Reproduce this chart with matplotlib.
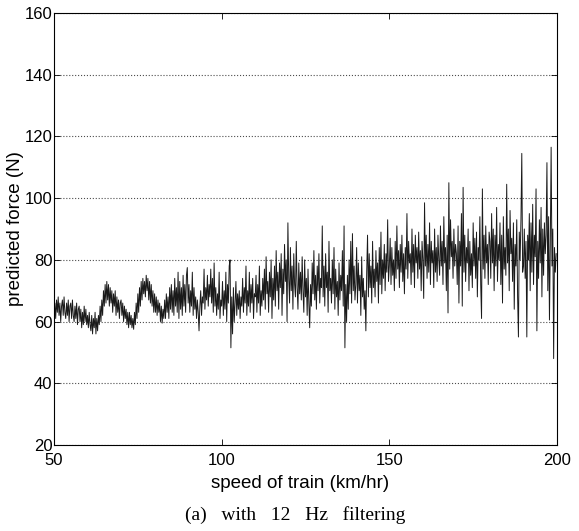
import numpy as np
import matplotlib
matplotlib.use("Agg")
import matplotlib.pyplot as plt

# predicted force (N), sampled every 0.25 km/hr, one list per 10 km/hr
force_50 = [63, 66, 61, 67, 63, 68, 62, 66, 60, 65, 67, 62, 68, 63, 61, 66, 62, 67, 60, 65,
            66, 61, 67, 62, 60, 65, 61, 66, 59, 64, 65, 60, 64, 58, 63, 59, 65, 60, 64, 59]
force_60 = [62, 58, 63, 59, 57, 62, 56, 61, 58, 63, 56, 61, 57, 62, 59, 65, 60, 67, 62, 70,
            65, 72, 66, 73, 67, 72, 65, 71, 66, 70, 63, 69, 65, 70, 62, 68, 63, 67, 61, 66]
force_70 = [67, 62, 66, 60, 65, 61, 64, 59, 63, 58, 63, 59, 62, 58, 61, 57.5, 63, 59, 66, 61,
            69, 63, 71, 65, 73, 67, 74, 69, 73, 68, 75, 70, 74, 67, 73, 66, 72, 65, 70, 63]
force_80 = [69, 63, 68, 62, 67, 63, 66, 60, 65, 59.5, 64, 61, 67, 61, 69, 63, 68, 61, 71, 64,
            72, 63, 70, 62, 74, 65, 71, 63, 76, 61, 73, 64, 71, 62, 75, 65, 72, 63, 75, 77.5]
force_90 = [66, 72, 63, 70, 65, 76, 62, 71, 64, 68, 61, 67, 63, 57, 65, 70, 62, 68, 66, 77,
            64, 71, 67, 75, 65, 72, 68, 77, 66, 74, 63, 79, 65, 71, 62, 69, 64, 76, 61, 67]
force_100 = [65, 73, 62, 70, 64, 76, 60, 72, 66, 78, 80, 51.5, 68, 56, 71, 60, 66, 73, 62, 69,
             64, 70, 61, 68, 65, 74, 63, 71, 66, 78, 62, 70, 65, 76, 63, 72, 66, 74, 61, 69]
force_110 = [68, 75, 63, 72, 66, 78, 62, 70, 65, 74, 67, 77, 64, 81, 69, 73, 63, 76, 68, 80,
             61, 74, 67, 78, 65, 83, 70, 76, 64, 79, 71, 82, 62, 77, 69, 85, 73, 80, 60, 92]
force_120 = [74, 66, 84, 70, 78, 64, 82, 72, 68, 86, 71, 64, 79, 69, 76, 67, 81, 70, 63, 80,
             68, 74, 62, 77, 66, 58, 72, 65, 79, 69, 83, 67, 75, 64, 78, 70, 82, 66, 74, 71]
force_130 = [91, 68, 78, 65, 82, 71, 76, 63, 86, 70, 74, 66, 80, 69, 84, 64, 77, 68, 73, 62,
             79, 67, 75, 70, 83, 65, 91, 51.5, 72, 60, 75, 64, 80, 69, 86, 66, 88.5, 70, 78, 67]
force_140 = [72, 84, 66, 79, 70, 75, 62, 81, 68, 74, 64, 70, 57, 76, 88, 68, 82, 71, 78, 66,
             86, 71, 77, 68, 83, 73, 79, 66, 84, 72, 89, 69, 80, 74, 85, 70, 82, 76, 93, 73]
force_150 = [78, 87, 72, 84, 75, 80, 70, 86, 74, 91, 77, 83, 71, 85, 76, 88, 73, 82, 69, 84,
             77, 95, 74, 86, 79, 82, 72, 90, 76, 85, 71, 88, 79, 84, 74, 89, 77, 83, 70, 86]
force_160 = [80, 67.5, 98.5, 78, 88, 74, 85, 76, 92, 72, 86, 79, 83, 71, 90, 76, 84, 73, 88, 80,
             75, 91, 78, 86, 72, 94, 79, 84, 70, 88, 62.8, 105, 77, 93, 81, 86, 74, 90, 78, 85]
force_170 = [82, 72, 91, 66, 86, 78, 95, 65, 103.5, 76, 88, 73, 84, 79, 90, 70, 86, 75, 82, 71,
             92, 78, 87, 74, 89, 68, 84, 80, 94, 72, 61, 103, 77, 88, 74, 91, 79, 85, 72, 89]
force_180 = [86, 74, 95, 79, 90, 70, 88, 78, 97, 73, 85, 80, 92, 72, 88, 66, 94, 77, 84, 75,
             104.5, 79, 90, 70, 96, 82, 87, 73, 92, 64, 85, 78, 93, 68, 55, 89, 80, 93, 114.5, 76]
force_190 = [78, 90, 74, 86, 55, 88, 80, 95, 70, 92, 76, 98, 72, 88, 81, 103, 57, 86, 74, 93,
             79, 97, 68, 90, 75, 92, 82, 88, 111.5, 70, 94, 60.5, 85, 116.5, 78, 90, 48, 84, 76, 82]

force = np.concatenate([force_50, force_60, force_70, force_80, force_90,
                        force_100, force_110, force_120, force_130, force_140,
                        force_150, force_160, force_170, force_180, force_190])
speed = 50 + 0.25 * np.arange(len(force))

xticks = [50, 100, 150, 200]
yticks = [20, 40, 60, 80, 100, 120, 140, 160]

plt.rcParams['font.family'] = ['Liberation Sans', 'DejaVu Sans']

fig = plt.figure(figsize=(5.79, 5.31), dpi=100)
ax = fig.add_axes([54/579, 1 - 445/531, 503/579, 432/531])

ax.plot(speed, force, color='0.1', lw=0.7)

ax.set_xlim(50, 200)
ax.set_ylim(20, 160)
ax.set_xticks(xticks)
ax.set_yticks(yticks)
ax.yaxis.grid(True, linestyle=':', color='0.3', lw=0.8)
ax.set_axisbelow(True)
ax.tick_params(direction='in', top=True, right=True, length=4, width=0.6,
               labelsize=12, pad=1)
ax.tick_params(axis='x', pad=6)
for s in ax.spines.values():
    s.set_linewidth(0.8)

ax.set_xlabel('speed of train (km/hr)', fontsize=13.5)
ax.set_ylabel('predicted force (N)', fontsize=13.5)
ax.xaxis.set_label_coords(0.489, -0.09)
ax.xaxis.label.set_va('center')
ax.yaxis.set_label_coords(-0.0775, 0.5)
ax.yaxis.label.set_va('center')

fig.text(295/579, 1 - 515/531, '(a)   with   12   Hz   filtering',
         family=['Liberation Serif', 'DejaVu Serif'], fontsize=14,
         ha='center', va='center')

fig.savefig('out.png', dpi=100)
